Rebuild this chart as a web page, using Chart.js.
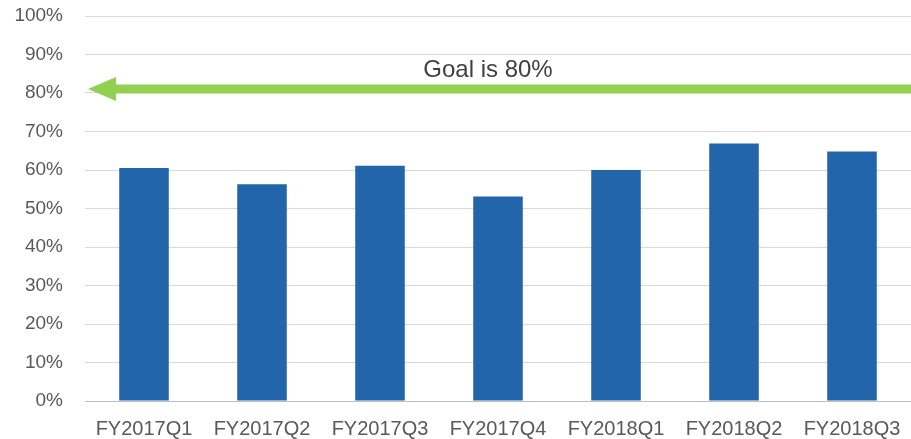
<!DOCTYPE html>
<html>
<head>
<meta charset="utf-8">
<script src="https://cdn.jsdelivr.net/npm/chart.js@4"></script>
<style>
  html, body { margin: 0; padding: 0; background: #fff; }
  #wrap { width: 911px; height: 439px; }
</style>
</head>
<body>
<div id="wrap"><canvas id="goalChart" width="911" height="439"></canvas></div>
<script>
var quarters = ["FY2017Q1", "FY2017Q2", "FY2017Q3", "FY2017Q4", "FY2018Q1", "FY2018Q2", "FY2018Q3"];
var rates = [60.5, 56.3, 61.1, 53.1, 60.0, 66.9, 64.8];
var goal = 80;
var goalText = "Goal is 80%";

// green arrow pointing left along the goal line
var goalArrow = {
    id: 'goalArrow',
    afterDatasetsDraw: function (chart) {
        var c = chart.ctx;
        var area = chart.chartArea;
        var y = chart.scales.y.getPixelForValue(goal) - 4;
        var tipX = area.left + 3;
        c.save();
        c.fillStyle = "#92d050";
        c.fillRect(tipX + 26, y - 4.5, chart.width - tipX - 26, 9);
        c.beginPath();
        c.moveTo(tipX, y);
        c.lineTo(tipX + 28, y - 12);
        c.lineTo(tipX + 28, y + 12);
        c.closePath();
        c.fill();
        c.fillStyle = "#404040";
        c.font = "24px 'Liberation Sans', Arial, sans-serif";
        c.textAlign = "center";
        c.textBaseline = "middle";
        c.fillText(goalText, 488, y - 19);
        c.restore();
    }
};

var ctx = document.getElementById('goalChart').getContext('2d');
var myChart = new Chart(ctx, {
    type: 'bar',
    data: {
        labels: quarters,
        datasets: [
            {
                label: "Rate",
                data: rates,
                backgroundColor: "#2265aa",
                borderWidth: 0,
                categoryPercentage: 1,
                barPercentage: 0.42,
            },
        ],
    },
    options: {
        responsive: false,
        animation: false,
        layout: {
            padding: { top: 16, right: 0, bottom: 0, left: 0 },
        },
        scales: {
            x: {
                grid: { display: false },
                border: { color: "#bfbfbf" },
                ticks: {
                    color: "#595959",
                    padding: 8,
                    maxRotation: 0,
                    font: { family: "'Liberation Sans', Arial, sans-serif", size: 20 },
                },
                afterFit: function (scale) { scale.height = 38; },
            },
            y: {
                min: 0,
                max: 100,
                grid: { color: "#d9d9d9", drawTicks: false },
                border: { display: false },
                ticks: {
                    stepSize: 10,
                    padding: 22,
                    color: "#595959",
                    font: { family: "'Liberation Sans', Arial, sans-serif", size: 19 },
                    callback: function (v) { return v + "%"; },
                },
                afterFit: function (scale) {
                    scale.width = 85;
                    scale.paddingTop = 12;
                    scale.paddingBottom = 12;
                },
            },
        },
        plugins: {
            legend: { display: false },
            tooltip: { enabled: false },
        },
    },
    plugins: [goalArrow],
});
</script>
</body>
</html>
